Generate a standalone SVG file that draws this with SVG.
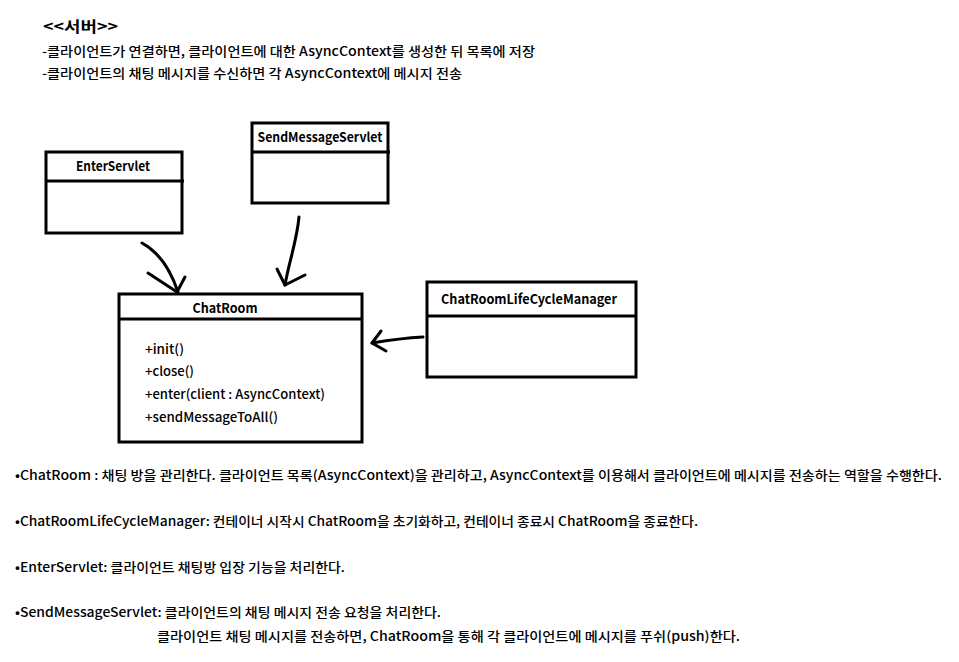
<svg xmlns="http://www.w3.org/2000/svg" width="959" height="662" viewBox="0 0 959 662">
<style>
.t{font-family:"Noto Sans CJK KR","Liberation Sans",sans-serif;font-size:13px;font-weight:500;fill:#000}
.h{font-size:15px;font-weight:700}
.n{font-weight:700;font-size:13px}
.box{fill:#fff;stroke:#000;stroke-width:3}
.ln{fill:none;stroke:#000;stroke-width:3}
.arr{fill:none;stroke:#000;stroke-width:3;stroke-linecap:round;stroke-linejoin:round}
</style>
<rect width="959" height="662" fill="#fff"/>
<g id="header">
<text class="t h" x="43" y="32" textLength="75" lengthAdjust="spacingAndGlyphs">&lt;&lt;서버&gt;&gt;</text>
<text class="t" x="42" y="56" textLength="493" lengthAdjust="spacingAndGlyphs">-클라이언트가 연결하면, 클라이언트에 대한 AsyncContext를 생성한 뒤 목록에 저장</text>
<text class="t" x="42" y="78" textLength="420" lengthAdjust="spacingAndGlyphs">-클라이언트의 채팅 메시지를 수신하면 각 AsyncContext에 메시지 전송</text>
</g>
<g id="EnterServlet">
<rect class="box" x="46" y="152" width="136" height="81"/>
<line class="ln" x1="46" y1="181" x2="184" y2="181"/>
<text class="t n" x="113" y="171" text-anchor="middle" textLength="74" lengthAdjust="spacingAndGlyphs">EnterServlet</text>
</g>
<g id="SendMessageServlet">
<rect class="box" x="252" y="123" width="136" height="80"/>
<line class="ln" x1="252" y1="152" x2="390" y2="152"/>
<text class="t n" x="320" y="142" text-anchor="middle" textLength="125" lengthAdjust="spacingAndGlyphs">SendMessageServlet</text>
</g>
<g id="ChatRoom">
<rect class="box" x="119" y="294" width="243" height="148"/>
<line class="ln" x1="119" y1="319" x2="363" y2="319"/>
<text class="t n" x="225" y="313" text-anchor="middle" textLength="65" lengthAdjust="spacingAndGlyphs">ChatRoom</text>
<text class="t" x="145" y="354" textLength="39" lengthAdjust="spacingAndGlyphs">+init()</text>
<text class="t" x="145" y="376" textLength="49" lengthAdjust="spacingAndGlyphs">+close()</text>
<text class="t" x="145" y="399" textLength="180" lengthAdjust="spacingAndGlyphs">+enter(client : AsyncContext)</text>
<text class="t" x="145" y="422" textLength="133" lengthAdjust="spacingAndGlyphs">+sendMessageToAll()</text>
</g>
<g id="ChatRoomLifeCycleManager">
<rect class="box" x="427" y="282" width="209" height="95"/>
<line class="ln" x1="427" y1="316" x2="636" y2="316"/>
<text class="t n" x="529" y="304" text-anchor="middle" textLength="176" lengthAdjust="spacingAndGlyphs">ChatRoomLifeCycleManager</text>
</g>
<g id="connectors">
<path class="arr" d="M142,243 Q166,256 178,292"/>
<path class="arr" d="M148,273 L177,292 L185,277"/>
<path class="arr" d="M299,217 C297,240 289,262 285,285"/>
<path class="arr" d="M277,269 L285,285 L305,275"/>
<path class="arr" d="M423,337 C405,338 390,340 372,343"/>
<path class="arr" d="M381,331 L372,343 L386,351"/>
</g>
<g id="notes">
<text class="t" x="15" y="480" textLength="927" lengthAdjust="spacingAndGlyphs">•ChatRoom : 채팅 방을 관리한다. 클라이언트 목록(AsyncContext)을 관리하고, AsyncContext를 이용해서 클라이언트에 메시지를 전송하는 역할을 수행한다.</text>
<text class="t" x="15" y="526" textLength="683" lengthAdjust="spacingAndGlyphs">•ChatRoomLifeCycleManager: 컨테이너 시작시 ChatRoom을 초기화하고, 컨테이너 종료시 ChatRoom을 종료한다.</text>
<text class="t" x="15" y="572" textLength="330" lengthAdjust="spacingAndGlyphs">•EnterServlet: 클라이언트 채팅방 입장 기능을 처리한다.</text>
<text class="t" x="15" y="617" textLength="426" lengthAdjust="spacingAndGlyphs">•SendMessageServlet: 클라이언트의 채팅 메시지 전송 요청을 처리한다.</text>
<text class="t" x="157" y="641" textLength="583" lengthAdjust="spacingAndGlyphs">클라이언트 채팅 메시지를 전송하면, ChatRoom을 통해 각 클라이언트에 메시지를 푸쉬(push)한다.</text>
</g>
</svg>
